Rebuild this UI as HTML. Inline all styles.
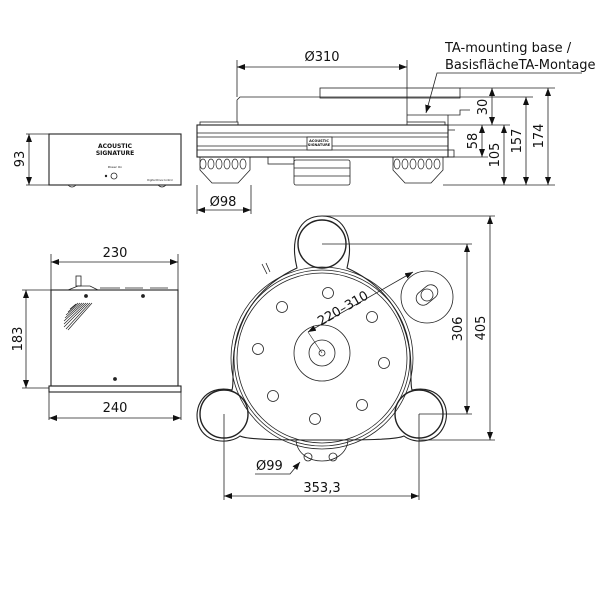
<!DOCTYPE html>
<html><head><meta charset="utf-8"><style>
html,body{margin:0;padding:0;background:#fff}
svg{display:block}
text{font-family:"DejaVu Sans","Liberation Sans",sans-serif;fill:#111}
</style></head><body>
<svg width="600" height="600" viewBox="0 0 600 600" xmlns="http://www.w3.org/2000/svg">
<defs>
<marker id="a" markerWidth="8" markerHeight="6" refX="8" refY="3" orient="auto-start-reverse" markerUnits="userSpaceOnUse"><path d="M0,0 L8,3 L0,6z" fill="#111"/></marker>
</defs>
<g stroke="#222" fill="none" stroke-width="0.8">
<!-- PSU front -->
<rect x="49" y="134" width="132" height="51" stroke-width="1.1"/>
<path d="M68,185 q4,4 8,0 M158,185 q4,4 8,0"/>
<circle cx="114" cy="176" r="3"/>
<circle cx="106" cy="176" r="0.8" fill="#222"/>
<line x1="26" y1="134" x2="49" y2="134"/><line x1="26" y1="185" x2="68" y2="185"/>
<line x1="29" y1="134" x2="29" y2="185" marker-start="url(#a)" marker-end="url(#a)"/>
<!-- PSU top -->
<rect x="51" y="290" width="127" height="96" stroke-width="1.1"/>
<rect x="49" y="386" width="132" height="6" stroke-width="1.1"/>
<path d="M68,290 l10,-4 l12,0 l8,4 M100,288 h20 M125,288 h18 M150,288 h18"/>
<rect x="76" y="276" width="5" height="10"/>
<circle cx="86" cy="296" r="1.5" fill="#222"/><circle cx="143" cy="296" r="1.5" fill="#222"/><circle cx="115" cy="379" r="1.5" fill="#222"/>
<g stroke-width="0.7"><path d="M88,303 L64,327 M86,303 L64,324 M84,303 L64,321 M82,303 L65,318 M80,303 L66,315 M78,303 L68,312 M76,304 L70,309 M90,303 L66,329 M92,303 L68,330"/></g>
<line x1="51" y1="254" x2="51" y2="290"/><line x1="178" y1="254" x2="178" y2="290"/>
<line x1="51" y1="262" x2="178" y2="262" marker-start="url(#a)" marker-end="url(#a)"/>
<line x1="49" y1="392" x2="49" y2="420"/><line x1="181" y1="392" x2="181" y2="420"/>
<line x1="49" y1="418" x2="181" y2="418" marker-start="url(#a)" marker-end="url(#a)"/>
<line x1="22" y1="290" x2="51" y2="290"/><line x1="22" y1="388" x2="49" y2="388"/>
<line x1="26" y1="290" x2="26" y2="388" marker-start="url(#a)" marker-end="url(#a)"/>

<!-- Side view -->
<rect x="320" y="88" width="140" height="10"/>
<path d="M237,122 V100 l3,-3 H407 V122"/>
<rect x="200" y="122" width="38" height="3"/><rect x="407" y="122" width="38" height="3"/>
<path d="M407,115 H448 V125 M448,115 H460 V110 H470"/>
<rect x="197" y="125" width="251" height="32" stroke-width="1.1"/>
<line x1="197" y1="133" x2="448" y2="133"/><line x1="197" y1="137" x2="448" y2="137"/>
<line x1="197" y1="146" x2="448" y2="146"/><line x1="197" y1="150" x2="448" y2="150"/>
<rect x="307" y="137" width="25" height="13" fill="#fff"/>
<line x1="448" y1="130" x2="455" y2="130"/><rect x="448" y="150" width="6" height="7"/>
<path d="M200,157 V170 L212,183 H238 L250,170 V157"/>
<path d="M393,157 V170 L405,183 H431 L443,170 V157"/>
<g stroke-width="0.7">
<ellipse cx="203" cy="164" rx="3" ry="5"/><ellipse cx="211" cy="164" rx="3" ry="5"/><ellipse cx="219" cy="164" rx="3" ry="5"/><ellipse cx="227" cy="164" rx="3" ry="5"/><ellipse cx="235" cy="164" rx="3" ry="5"/><ellipse cx="243" cy="164" rx="3" ry="5"/>
<ellipse cx="397" cy="164" rx="3" ry="5"/><ellipse cx="405" cy="164" rx="3" ry="5"/><ellipse cx="413" cy="164" rx="3" ry="5"/><ellipse cx="421" cy="164" rx="3" ry="5"/><ellipse cx="429" cy="164" rx="3" ry="5"/><ellipse cx="437" cy="164" rx="3" ry="5"/>
</g>
<rect x="268" y="157" width="26" height="7"/>
<rect x="294" y="160" width="56" height="25" rx="2"/>
<line x1="294" y1="168" x2="350" y2="168"/><line x1="294" y1="176" x2="350" y2="176"/>
<!-- side dims -->
<line x1="237" y1="60" x2="237" y2="97"/><line x1="407" y1="60" x2="407" y2="97"/>
<line x1="237" y1="67" x2="407" y2="67" marker-start="url(#a)" marker-end="url(#a)"/>
<line x1="197" y1="185" x2="197" y2="214"/><line x1="251" y1="185" x2="251" y2="214"/>
<line x1="197" y1="210" x2="251" y2="210" marker-start="url(#a)" marker-end="url(#a)"/>
<line x1="460" y1="88" x2="555" y2="88"/><line x1="407" y1="97" x2="533" y2="97"/>
<line x1="445" y1="125" x2="510" y2="125"/><line x1="448" y1="157" x2="488" y2="157"/>
<line x1="443" y1="185" x2="555" y2="185"/>
<line x1="492" y1="88" x2="492" y2="125" marker-start="url(#a)" marker-end="url(#a)"/>
<line x1="482" y1="125" x2="482" y2="157" marker-start="url(#a)" marker-end="url(#a)"/>
<line x1="504" y1="125" x2="504" y2="185" marker-start="url(#a)" marker-end="url(#a)"/>
<line x1="526" y1="97" x2="526" y2="185" marker-start="url(#a)" marker-end="url(#a)"/>
<line x1="548" y1="88" x2="548" y2="185" marker-start="url(#a)" marker-end="url(#a)"/>
<polyline points="582,73 437,73 426,113" marker-end="url(#a)"/>

<!-- Top view -->
<path d="M297,268 C290,240 298,216 322,216 C346,216 354,240 347,268 C382,284 404,312 410,352 C412,372 410,384 412,390 C440,384 452,408 444,426 C436,444 414,444 404,436 C396,440 360,440 322,440 C284,440 248,440 240,436 C230,444 206,444 199,426 C192,408 204,384 232,390 C234,384 232,372 234,352 C240,312 262,284 297,268 Z" stroke-width="1.1"/>
<circle cx="322" cy="244" r="24" stroke-width="1.4"/>
<circle cx="224" cy="414" r="24" stroke-width="1.4"/>
<circle cx="419" cy="414" r="24" stroke-width="1.4"/>
<circle cx="322" cy="358" r="91"/><circle cx="322" cy="358" r="88"/><circle cx="322" cy="358" r="85"/>
<circle cx="322" cy="353" r="28"/><circle cx="322" cy="353" r="13"/><circle cx="322" cy="353" r="3"/>
<g>
<circle cx="328" cy="293" r="5.5"/><circle cx="372" cy="317" r="5.5"/><circle cx="384" cy="363" r="5.5"/><circle cx="362" cy="405" r="5.5"/>
<circle cx="315" cy="419" r="5.5"/><circle cx="273" cy="396" r="5.5"/><circle cx="258" cy="349" r="5.5"/><circle cx="282" cy="307" r="5.5"/>
</g>
<path d="M267,274 l-5,-10 M270,272 l-4,-9"/>
<circle cx="427" cy="297" r="26" fill="#fff"/>
<rect x="415" y="288" width="24" height="14" rx="7" transform="rotate(-40 427 295)"/>
<circle cx="427" cy="295" r="6"/>
<path d="M296,440 C298,468 346,468 348,440"/>
<circle cx="308" cy="457" r="4"/><circle cx="333" cy="457" r="4"/>
<line x1="322" y1="353" x2="308" y2="332" stroke-width="0.6"/>
<line x1="308" y1="332" x2="413" y2="272" marker-start="url(#a)" marker-end="url(#a)"/>
<line x1="322" y1="216" x2="495" y2="216"/><line x1="322" y1="244" x2="472" y2="244"/>
<line x1="419" y1="414" x2="472" y2="414"/><line x1="419" y1="440" x2="495" y2="440"/>
<line x1="490" y1="216" x2="490" y2="440" marker-start="url(#a)" marker-end="url(#a)"/>
<line x1="467" y1="244" x2="467" y2="414" marker-start="url(#a)" marker-end="url(#a)"/>
<line x1="224" y1="414" x2="224" y2="500"/><line x1="419" y1="414" x2="419" y2="500"/>
<line x1="224" y1="496" x2="419" y2="496" marker-start="url(#a)" marker-end="url(#a)"/>
<polyline points="255,474 290,474 300,462" marker-end="url(#a)"/>
</g>
<g font-size="6" text-anchor="middle" font-weight="bold">
<text x="115" y="148">ACOUSTIC</text><text x="115" y="155">SIGNATURE</text>
<text x="319" y="142" font-size="3.5">ACOUSTIC</text><text x="319" y="146" font-size="3.5">SIGNATURE</text>
</g>
<text x="115" y="168" font-size="3" text-anchor="middle">Power On</text>
<text x="160" y="181" font-size="2.5" text-anchor="middle">Digital Drive Control</text>
<g font-size="13">
<text x="322" y="61" text-anchor="middle">Ø310</text>
<text x="223" y="206" text-anchor="middle">Ø98</text>
<text x="445" y="52">TA-mounting base /</text>
<text x="445" y="69">BasisflächeTA-Montage</text>
<text x="115" y="257" text-anchor="middle">230</text>
<text x="115" y="412" text-anchor="middle">240</text>
<text x="322" y="492" text-anchor="middle">353,3</text>
<text x="256" y="470">Ø99</text>
<text transform="translate(345,312) rotate(-30)" text-anchor="middle">220–310</text>
<text transform="translate(24,159) rotate(-90)" text-anchor="middle">93</text>
<text transform="translate(22,339) rotate(-90)" text-anchor="middle">183</text>
<text transform="translate(487,107) rotate(-90)" text-anchor="middle">30</text>
<text transform="translate(477,141) rotate(-90)" text-anchor="middle">58</text>
<text transform="translate(499,155) rotate(-90)" text-anchor="middle">105</text>
<text transform="translate(521,141) rotate(-90)" text-anchor="middle">157</text>
<text transform="translate(543,136) rotate(-90)" text-anchor="middle">174</text>
<text transform="translate(462,329) rotate(-90)" text-anchor="middle">306</text>
<text transform="translate(485,328) rotate(-90)" text-anchor="middle">405</text>
</g>
</svg>
</body></html>
